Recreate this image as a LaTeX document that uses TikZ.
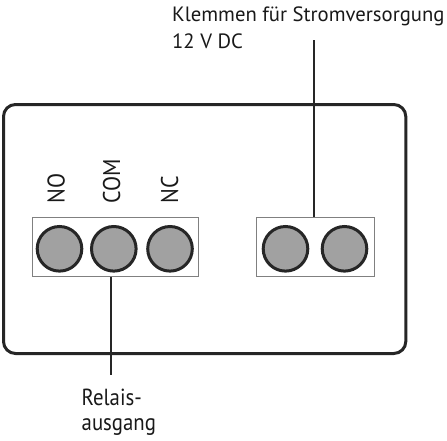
\documentclass[tikz,border=0pt]{standalone}
\usepackage{fontspec}
\setmainfont{PT Sans}
\begin{document}
\begin{tikzpicture}[x=1pt,y=-1pt,
  housing/.style={draw=black!85,line width=3pt,rounded corners=12pt},
  blockbox/.style={draw=black!50,line width=1pt},
  screw/.style={circle,draw=black!85,fill=black!37,line width=3pt,minimum size=44.6pt,inner sep=0pt},
  lead/.style={draw=black!85,line width=1.3pt},
  lbl/.style={text=black!90,inner sep=0pt,font=\fontsize{20.7}{24}\selectfont},
  biglbl/.style={text=black!90,inner sep=0pt,font=\fontsize{20.8}{25}\selectfont},
  pin/.style={text=black!90,inner sep=0pt,rotate=90,anchor=base west,font=\fontsize{22}{26}\selectfont}]
\useasboundingbox (0,0) rectangle (447,440);
% housing
\draw[housing] (3.5,104.5) rectangle (405.8,353.5);
% terminal blocks
\node[blockbox,minimum width=166pt,minimum height=59pt,inner sep=0pt] (b1) at (115,247.2) {};
\node[blockbox,minimum width=118pt,minimum height=59pt,inner sep=0pt] (b2) at (315,247.2) {};
\node[screw] (c1) at (59.5,248.8) {};
\node[screw] (c2) at (113.8,248.8) {};
\node[screw] (c3) at (170,248.8) {};
\node[screw] (c4) at (285.5,248.8) {};
\node[screw] (c5) at (344.5,248.8) {};
% pin labels
\node[pin] (no) at (64.5,203.5) {\scalebox{1}[1.1]{NO}};
\node[pin] (com) at (120.2,203.5) {\scalebox{1}[1.1]{COM}};
\node[pin] (nc) at (178,203.5) {\scalebox{1}[1.1]{NC}};
% texts
\node[lbl,anchor=base west] (t1) at (172,21) {Klemmen für Stromversorgung};
\node[lbl,anchor=base west] (t2) at (172,48) {12 V DC};
\node[biglbl,anchor=base west] (r1) at (81.5,405.5) {\scalebox{1}[1.12]{Relais-}};
\node[biglbl,anchor=base west] (r2) at (81.5,430.5) {\scalebox{1}[1.12]{ausgang}};
% leads
\coordinate (pwrtop) at (314,40);
\coordinate (comend) at (111,375);
\draw[lead] (pwrtop) -- (pwrtop |- b2.north);
\draw[lead] (comend |- b1.south) -- (comend);
\end{tikzpicture}
\end{document}
